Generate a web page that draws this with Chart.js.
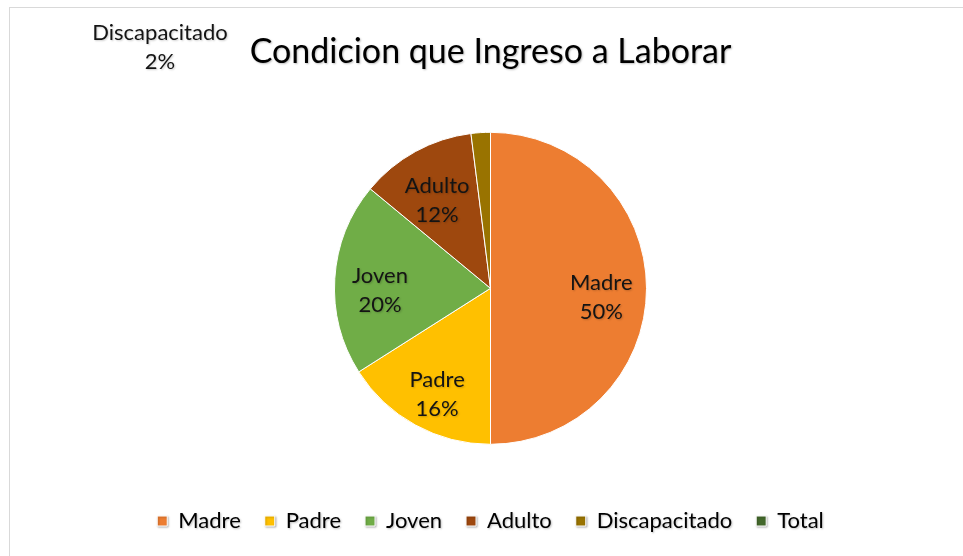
<!DOCTYPE html>
<html>
<head>
  <meta charset="UTF-8">
  <title>Condicion que Ingreso a Laborar</title>
  <style>
    body {
      margin: 0;
      background: #fff;
    }
    #chart {
      display: block;
    }
  </style>
  <script src="https://cdn.jsdelivr.net/npm/chart.js"></script>
</head>
<body>
  <canvas id="chart" width="963" height="556"></canvas>
  <script>
    const categories = ['Madre', 'Padre', 'Joven', 'Adulto', 'Discapacitado', 'Total'];
    const values = [50, 16, 20, 12, 2, 0];
    const colors = ['#ED7D31', '#FFC000', '#70AD47', '#9E480E', '#997300', '#43682B'];
    const FONT = 'Lato, "Open Sans", sans-serif';

    // frame around the chart, as in the spreadsheet export, plus a soft text shadow
    const framePlugin = {
      id: 'frame',
      beforeDraw(chart) {
        const ctx = chart.ctx;
        ctx.save();
        ctx.fillStyle = '#fff';
        ctx.fillRect(0, 0, chart.width, chart.height);
        ctx.strokeStyle = '#d9d9d9';
        ctx.lineWidth = 1;
        ctx.strokeRect(9.5, 7.5, chart.width + 20, chart.height + 20);
        ctx.restore();
        ctx.shadowColor = 'rgba(0,0,0,0.25)';
        ctx.shadowOffsetX = 1;
        ctx.shadowOffsetY = 1;
        ctx.shadowBlur = 2;
      },
      beforeDatasetsDraw(chart) {
        const ctx = chart.ctx;
        ctx.shadowColor = 'rgba(0,0,0,0)';
        ctx.shadowBlur = 0;
        ctx.shadowOffsetX = 0;
        ctx.shadowOffsetY = 0;
      }
    };

    // "Name / NN%" labels inside slices; the tiny slice goes to the top-left corner
    const labelPlugin = {
      id: 'sliceLabels',
      afterDatasetsDraw(chart) {
        const ctx = chart.ctx;
        const meta = chart.getDatasetMeta(0);
        const total = values.reduce((a, b) => a + b, 0);
        ctx.save();
        ctx.font = '22px ' + FONT;
        ctx.fillStyle = '#141414';
        ctx.textAlign = 'center';
        ctx.textBaseline = 'middle';
        ctx.shadowColor = 'rgba(0,0,0,0.2)';
        ctx.shadowOffsetX = 1;
        ctx.shadowOffsetY = 1;
        ctx.shadowBlur = 2;
        meta.data.forEach((arc, i) => {
          if (!values[i]) return;
          const pct = Math.round(values[i] / total * 100) + '%';
          let x, y;
          if (values[i] / total < 0.05) {
            x = 160;
            y = 47;
          } else {
            const mid = (arc.startAngle + arc.endAngle) / 2;
            const r = arc.outerRadius * 0.71;
            x = arc.x + Math.cos(mid) * r;
            y = arc.y + Math.sin(mid) * r + 9;
          }
          ctx.fillText(categories[i], x, y - 14);
          ctx.fillText(pct, x, y + 15);
        });
        ctx.restore();
      }
    };

    new Chart(document.getElementById('chart'), {
      type: 'pie',
      data: {
        labels: categories,
        datasets: [{
          data: values,
          backgroundColor: colors,
          borderColor: '#ffffff',
          borderWidth: 1
        }]
      },
      options: {
        responsive: false,
        animation: false,
        layout: {
          padding: { left: 18, top: 10, bottom: 14, right: 0 }
        },
        plugins: {
          title: {
            display: true,
            text: 'Condicion que Ingreso a Laborar',
            color: '#000',
            font: { family: FONT, size: 34, weight: 'normal' },
            padding: { top: 22, bottom: 59 }
          },
          legend: {
            position: 'bottom',
            title: {
              display: true,
              text: ' ',
              font: { size: 1 },
              padding: { top: 40, bottom: 0 }
            },
            labels: {
              color: '#000',
              font: { family: FONT, size: 22 },
              boxWidth: 10,
              boxHeight: 10,
              padding: 24
            }
          },
          tooltip: { enabled: false }
        }
      },
      plugins: [framePlugin, labelPlugin]
    });
  </script>
</body>
</html>
